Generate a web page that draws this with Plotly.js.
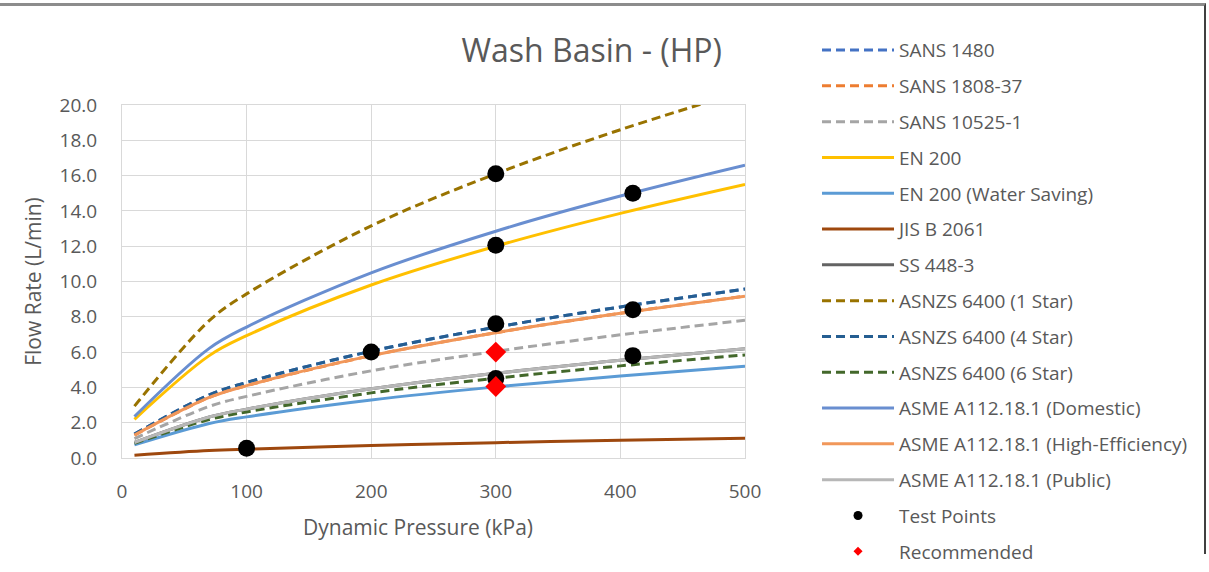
<!DOCTYPE html>
<html>
<head>
<meta charset="utf-8">
<script src="https://cdn.plot.ly/plotly-3.0.1.min.js"></script>
<style>
html,body{margin:0;padding:0;background:#fff;}
#wrap{position:relative;width:1209px;height:572px;overflow:hidden;}
#chart{width:1209px;height:572px;}
#frame{position:absolute;left:-4px;top:3px;width:1208px;height:548px;border-top:3px solid #8c8c8c;border-right:2px solid #404040;pointer-events:none;}
</style>
</head>
<body>
<div id="wrap"><div id="chart"></div><div id="frame"></div></div>
<script>
// Dynamic pressure (kPa)
const pressure = [10, 70, 100, 200, 300, 400, 500];

// Flow rate curves (L/min)
const sans1480      = [1.35, 3.58, 4.28, 6.05, 7.41, 8.56, 9.57];
const sans1808_37   = [1.30, 3.43, 4.10, 5.80, 7.10, 8.20, 9.17];
const sans10525_1   = [1.10, 2.92, 3.49, 4.94, 6.04, 6.98, 7.80];
const en200         = [2.19, 5.80, 6.93, 9.80, 12.00, 13.86, 15.50];
const en200Water    = [0.74, 1.95, 2.33, 3.29, 4.03, 4.65, 5.20];
const jisB2061      = [0.16, 0.42, 0.50, 0.71, 0.87, 1.00, 1.12];
const ss448_3       = [0.88, 2.32, 2.77, 3.92, 4.80, 5.54, 6.19];
const asnzs1Star    = [2.94, 7.78, 9.30, 13.15, 16.10, 18.60, 20.80];
const asnzs4Star    = [1.35, 3.58, 4.28, 6.05, 7.41, 8.56, 9.57];
const asnzs6Star    = [0.83, 2.18, 2.61, 3.69, 4.52, 5.22, 5.84];
const asmeDomestic  = [2.35, 6.21, 7.42, 10.49, 12.85, 14.84, 16.59];
const asmeHighEff   = [1.30, 3.43, 4.10, 5.80, 7.10, 8.20, 9.17];
const asmePublic    = [0.88, 2.32, 2.77, 3.92, 4.80, 5.54, 6.19];

// Test points
const testX = [100, 200, 300, 300, 300, 300, 410, 410, 410];
const testY = [0.55, 6.0, 16.1, 12.05, 7.6, 4.5, 15.0, 8.4, 5.8];

// Recommended points
const recX = [300, 300];
const recY = [6.0, 4.05];

const seriesNames = [
  "SANS 1480", "SANS 1808-37", "SANS 10525-1", "EN 200", "EN 200 (Water Saving)",
  "JIS B 2061", "SS 448-3", "ASNZS 6400 (1 Star)", "ASNZS 6400 (4 Star)",
  "ASNZS 6400 (6 Star)", "ASME A112.18.1 (Domestic)", "ASME A112.18.1 (High-Efficiency)",
  "ASME A112.18.1 (Public)"
];
const seriesData = [sans1480, sans1808_37, sans10525_1, en200, en200Water, jisB2061, ss448_3,
  asnzs1Star, asnzs4Star, asnzs6Star, asmeDomestic, asmeHighEff, asmePublic];
const seriesColors = ["#4472C4", "#ED7D31", "#A5A5A5", "#FFC000", "#5B9BD5", "#9E480E", "#636363",
  "#997300", "#255E91", "#43682B", "#698ED0", "#F1975A", "#B7B7B7"];
const seriesDash = ["dash", "dash", "dash", "solid", "solid", "solid", "solid",
  "dash", "dash", "dash", "solid", "solid", "solid"];

const FONT = "'Open Sans', 'Noto Sans', sans-serif";
const TXT = "#595959";

const traces = seriesNames.map((n, i) => ({
  type: "scatter", mode: "lines", name: n, legendgroup: "g" + i,
  x: pressure, y: seriesData[i],
  line: {color: seriesColors[i], width: 3, dash: seriesDash[i] === "dash" ? "9px,5px" : "solid", shape: "spline", smoothing: 1}
}));
// Test points and recommended points (legend entries drawn with small symbols)
traces.push({
  type: "scatter", mode: "markers", name: "Test Points", legendgroup: "gT", showlegend: false,
  x: testX, y: testY,
  marker: {color: "#000000", size: 17, symbol: "circle"}
});
traces.push({
  type: "scatter", mode: "markers", name: "Recommended", legendgroup: "gR", showlegend: false,
  x: recX, y: recY,
  marker: {color: "#FF0000", size: 16, symbol: "diamond"}
});
traces.push({
  type: "scatter", mode: "markers", name: "Test Points", legendgroup: "gT", showlegend: true,
  x: [null], y: [null],
  marker: {color: "#000000", size: 9, symbol: "circle"}
});
traces.push({
  type: "scatter", mode: "markers", name: "Recommended", legendgroup: "gR", showlegend: true,
  x: [null], y: [null],
  marker: {color: "#FF0000", size: 7, symbol: "diamond"}
});

const layout = {
  width: 1209, height: 572,
  margin: {l: 122, r: 464, t: 105, b: 114, pad: 0},
  paper_bgcolor: "#ffffff", plot_bgcolor: "#ffffff",
  font: {family: FONT, color: TXT, size: 18},
  title: {text: "Wash Basin - (HP)", font: {family: FONT, size: 32, color: TXT},
    xref: "paper", x: 0.754, xanchor: "center", yref: "container", y: 0.912, yanchor: "middle"},
  xaxis: {
    range: [0, 500], tickvals: [0, 100, 200, 300, 400, 500], ticktext: ["0","100","200","300","400","500"],
    showgrid: true, gridcolor: "#D9D9D9", gridwidth: 1, zeroline: false,
    showline: true, linecolor: "#D9D9D9", linewidth: 1, mirror: true,
    ticks: "", ticklabelstandoff: 16, tickfont: {size: 19, color: TXT},
    automargin: false, fixedrange: true
  },
  yaxis: {
    range: [0, 20], tickvals: [0,2,4,6,8,10,12,14,16,18,20],
    ticktext: ["0.0","2.0","4.0","6.0","8.0","10.0","12.0","14.0","16.0","18.0","20.0"],
    showgrid: true, gridcolor: "#D9D9D9", gridwidth: 1, zeroline: false,
    showline: true, linecolor: "#D9D9D9", linewidth: 1, mirror: true,
    ticks: "", ticklabelstandoff: 20, tickfont: {size: 19, color: TXT},
    title: {text: "Flow Rate (L/min)", font: {size: 21, color: TXT}, standoff: 12},
    automargin: false, fixedrange: true
  },
  annotations: [{
    text: "Dynamic Pressure (kPa)", xref: "paper", yref: "paper",
    x: (418 - 122) / 623, y: -(527 - 458) / 353, xanchor: "center", yanchor: "middle",
    showarrow: false, font: {family: FONT, size: 21, color: TXT}
  }],
  showlegend: true,
  legend: {
    x: 1.1156, xanchor: "left", y: 1.209, yanchor: "top",
    font: {family: FONT, size: 19, color: TXT},
    bgcolor: "rgba(0,0,0,0)", borderwidth: 0,
    tracegroupgap: 8.1, itemwidth: 72, itemsizing: "trace",
    traceorder: "grouped", maxheight: 700
  }
};

Plotly.newPlot("chart", traces, layout, {displayModeBar: false, staticPlot: true});
</script>
</body>
</html>
